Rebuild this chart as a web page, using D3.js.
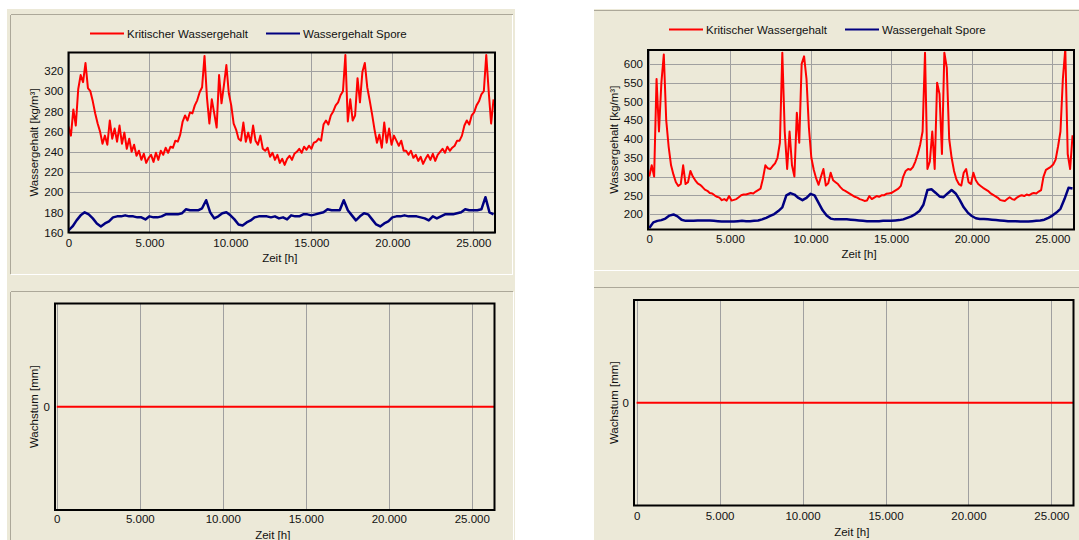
<!DOCTYPE html>
<html>
<head>
<meta charset="utf-8">
<script src="https://cdn.jsdelivr.net/npm/d3@7"></script>
<style>
  body { margin: 0; background: #fff; }
  text { font-family: "Liberation Sans", Arial, sans-serif; fill: #111; }
</style>
</head>
<body>
<div id="chart"></div>
<script>

// ---- data ----
const xTicks = [0, 5000, 10000, 15000, 20000, 25000];
const xTickLabels = ["0", "5.000", "10.000", "15.000", "20.000", "25.000"];

const yTicksLeft = [160, 180, 200, 220, 240, 260, 280, 300, 320];
const yLabelsLeft = ["160", "180", "200", "220", "240", "260", "280", "300", "320"];
const yTicksRight = [200, 250, 300, 350, 400, 450, 500, 550, 600];
const yLabelsRight = ["200", "250", "300", "350", "400", "450", "500", "550", "600"];
const yTicksGrowth = [0];
const yLabelsGrowth = ["0"];

const seriesNames = ["Kritischer Wassergehalt", "Wassergehalt Spore"];

// sampling grid of the read-off values (hours)
const hoursRed = d3.range(0, 26251, 150);
const hoursBlue = d3.range(0, 26251, 250);
const hoursGrowth = [0, 26370];

// left chart: Kritischer Wassergehalt [kg/m³]
const critLeft = [
  265,256,282,266,302,316,309,328,303,300,
  290,278,268,260,248,256,247,271,253,263,
  250,266,248,259,243,253,240,247,236,241,
  232,238,229,234,237,230,239,232,241,237,
  244,239,245,244,251,250,257,270,276,271,
  279,278,286,291,299,304,335,294,268,292,
  278,264,316,288,306,326,298,286,268,262,
  253,251,269,250,259,249,266,251,247,256,
  243,241,244,235,239,232,237,229,233,227,
  233,236,232,238,240,243,239,245,242,246,
  243,249,250,253,251,267,271,267,276,280,
  286,289,296,300,336,270,292,271,276,313,
  289,319,328,304,291,277,262,249,257,244,
  269,249,263,247,256,251,246,251,241,241,
  237,241,234,237,231,235,228,233,237,232,
  238,231,237,240,243,239,245,241,244,246,
  251,251,256,266,271,267,276,279,286,290,
  297,300,336,300,268,292
];

// left chart: Wassergehalt Spore
const sporeLeft = [
  162,166,172,177,180,178,174,169,166,169,
  171,175,176,176,177,176,176,175,175,173,
  176,175,175,176,178,178,178,178,179,183,
  182,182,182,184,192,180,174,176,179,180,
  177,173,168,167,170,172,175,176,176,176,
  175,176,174,175,173,177,176,176,178,178,
  177,178,179,180,183,182,182,182,192,182,
  177,172,176,179,178,173,168,166,169,171,
  175,176,176,177,176,176,176,175,174,172,
  176,174,176,178,178,178,179,180,183,182,
  182,182,183,195,180,178
];

// right chart: Kritischer Wassergehalt
const critRight = [
  300,330,300,560,420,550,625,450,380,330,
  305,285,275,280,330,280,285,315,300,290,
  282,278,272,265,262,256,255,250,246,244,
  237,240,236,248,236,238,240,245,250,252,
  252,254,256,255,260,264,268,295,330,322,
  320,328,335,350,390,630,420,320,420,330,
  300,470,390,600,620,560,430,350,318,295,
  278,300,320,276,282,310,290,285,280,272,
  265,262,258,254,250,246,244,240,238,235,
  236,248,240,244,248,246,250,250,254,255,
  256,260,264,268,275,300,315,320,318,325,
  340,360,385,420,630,320,340,420,320,550,
  520,360,630,590,400,350,315,292,280,276,
  310,320,285,280,310,290,280,275,270,266,
  262,256,252,248,244,238,236,235,240,245,
  240,238,244,248,250,248,252,250,254,256,
  255,260,264,300,318,322,326,332,345,380,
  420,560,640,360,320,410
];

// right chart: Wassergehalt Spore
const sporeRight = [
  163,178,182,184,188,196,199,194,185,182,
  182,182,183,183,183,183,182,181,180,180,
  180,180,181,182,181,181,182,183,186,190,
  195,200,208,218,250,256,252,243,237,243,
  254,250,230,210,196,188,186,186,186,186,
  185,184,183,182,181,181,181,181,182,182,
  182,183,184,186,190,194,200,208,225,264,
  266,257,247,245,255,264,255,238,218,204,
  195,189,187,187,186,185,184,183,182,181,
  181,181,180,180,180,181,182,183,185,190,
  196,204,214,240,270,268
];

// Wachstum [mm]
const growthLeft = [0, 0];
const growthRight = [0, 0];

// ---- drawing ----
const W = 1079, H = 540;
const beige = "#ece9d8", etch = "#aca899";
const red = "#ff0000", navy = "#000080";

let svg = d3.select("#chart").append("svg")
    .attr("width", W).attr("height", H);

// window background for the two columns
svg.append("rect").attr("x", 7).attr("y", 9).attr("width", 508).attr("height", H - 9).attr("fill", beige);
svg.append("rect").attr("x", 594).attr("y", 9).attr("width", W - 594).attr("height", H - 9).attr("fill", beige);

function hline(x1, x2, y, color) {
  svg.append("line").attr("x1", x1).attr("x2", x2).attr("y1", y).attr("y2", y)
     .attr("stroke", color).attr("shape-rendering", "crispEdges");
}
function vline(x, y1, y2, color) {
  svg.append("line").attr("x1", x).attr("x2", x).attr("y1", y1).attr("y2", y2)
     .attr("stroke", color).attr("shape-rendering", "crispEdges");
}

// etched panel edges
hline(10.5, 512.5, 14.5, etch); vline(10.5, 14.5, 274, etch);
hline(10.5, 513, 274.5, "#fff"); vline(512.5, 14.5, 274.5, "#fff");
hline(10.5, 513, 291.5, etch); vline(10.5, 291.5, H, etch); vline(513.5, 291.5, H, "#fff");
hline(594, W, 10.5, etch); hline(594, W, 270.5, "#fff");
hline(594, W, 287.5, etch);

let clipId = 0;

function drawPanel(p) {
  let x = d3.scaleLinear().domain(p.xDomain).range([p.left, p.right]);
  let y = d3.scaleLinear().domain(p.yDomain).range([p.bottom, p.top]);
  let h = p.bottom - p.top, w = p.right - p.left;

  let g = svg.append("g");

  // vertical grid
  g.append("g")
    .attr("transform", "translate(0," + p.bottom + ")")
    .call(d3.axisBottom(x).tickValues(xTicks).tickSize(-h).tickFormat(""))
    .call(a => a.select(".domain").remove())
    .selectAll("line").attr("stroke", "#a0a0a0").attr("shape-rendering", "crispEdges");

  // horizontal grid
  if (p.hGrid) {
    g.append("g")
      .attr("transform", "translate(" + p.left + ",0)")
      .call(d3.axisLeft(y).tickValues(p.yTicks).tickSize(-w).tickFormat(""))
      .call(a => a.select(".domain").remove())
      .selectAll("line").attr("stroke", "#a0a0a0").attr("shape-rendering", "crispEdges");
  }

  // tick labels
  g.append("g")
    .attr("transform", "translate(0," + p.bottom + ")")
    .call(d3.axisBottom(x).tickValues(xTicks).tickSize(0).tickPadding(p.xPad)
            .tickFormat((d, i) => xTickLabels[i]))
    .call(a => a.select(".domain").remove())
    .selectAll("text").style("font-size", "11.5px").attr("fill", "#111");

  g.append("g")
    .attr("transform", "translate(" + p.left + ",0)")
    .call(d3.axisLeft(y).tickValues(p.yTicks).tickSize(0).tickPadding(5)
            .tickFormat((d, i) => p.yLabels[i]))
    .call(a => a.select(".domain").remove())
    .selectAll("text").style("font-size", "11.5px").attr("fill", "#111");

  // clip
  let id = "clip" + (clipId++);
  svg.append("clipPath").attr("id", id)
    .append("rect").attr("x", p.left).attr("y", p.top).attr("width", w).attr("height", h);

  let lines = g.append("g").attr("clip-path", "url(#" + id + ")");
  p.series.forEach(s => {
    lines.append("path")
      .datum(s.values)
      .attr("fill", "none")
      .attr("stroke", s.color)
      .attr("stroke-width", s.width)
      .attr("stroke-linejoin", "round")
      .attr("d", d3.line()
        .x((d, i) => x(s.hours[i]))
        .y(d => y(d)));
  });

  // frame
  g.append("rect")
    .attr("x", p.left).attr("y", p.top).attr("width", w).attr("height", h)
    .attr("fill", "none").attr("stroke", "#000").attr("stroke-width", 2);

  // titles
  g.append("text")
    .attr("x", (p.left + p.right) / 2 - 2).attr("y", p.xTitleY)
    .attr("text-anchor", "middle").style("font-size", "11.5px")
    .text("Zeit [h]");

  g.append("text")
    .attr("transform", "translate(" + p.yTitleX + "," + ((p.top + p.bottom) / 2) + ") rotate(-90)")
    .attr("text-anchor", "middle").style("font-size", "11.5px")
    .text(p.yTitle);

  // legend
  if (p.legend) {
    p.legend.forEach((l, i) => {
      g.append("line")
        .attr("x1", l.x).attr("x2", l.x + 34).attr("y1", p.legendY).attr("y2", p.legendY)
        .attr("stroke", p.series[i].color).attr("stroke-width", 2);
      g.append("text")
        .attr("x", l.x + 37).attr("y", p.legendY + 4)
        .style("font-size", "11.5px")
        .text(seriesNames[i]);
    });
  }
}

drawPanel({
  left: 68.5, right: 495, top: 52.5, bottom: 232.5,
  xDomain: [0, 26340], yDomain: [160, 338.4],
  yTicks: yTicksLeft, yLabels: yLabelsLeft, hGrid: true, xPad: 6,
  xTitleY: 261.5, yTitleX: 38, yTitle: "Wassergehalt [kg/m³]",
  legendY: 33.5, legend: [{x: 90}, {x: 266}],
  series: [
    {hours: hoursRed, values: critLeft, color: red, width: 2},
    {hours: hoursBlue, values: sporeLeft, color: navy, width: 2.5}
  ]
});

drawPanel({
  left: 648, right: 1074, top: 50, bottom: 229.5,
  xDomain: [-80, 26340], yDomain: [159, 637],
  yTicks: yTicksRight, yLabels: yLabelsRight, hGrid: true, xPad: 5.5,
  xTitleY: 258, yTitleX: 618, yTitle: "Wassergehalt [kg/m³]",
  legendY: 29.5, legend: [{x: 669}, {x: 845}],
  series: [
    {hours: hoursRed, values: critRight, color: red, width: 2},
    {hours: hoursBlue, values: sporeRight, color: navy, width: 2.5}
  ]
});

drawPanel({
  left: 55, right: 494.5, top: 303.5, bottom: 510,
  xDomain: [-108, 26370], yDomain: [-1, 1],
  yTicks: yTicksGrowth, yLabels: yLabelsGrowth, hGrid: false, xPad: 5,
  xTitleY: 538.5, yTitleX: 38, yTitle: "Wachstum [mm]",
  series: [
    {hours: hoursGrowth, values: growthLeft, color: red, width: 2}
  ]
});

drawPanel({
  left: 634, right: 1073.5, top: 300, bottom: 505.5,
  xDomain: [-157, 26330], yDomain: [-1, 1],
  yTicks: yTicksGrowth, yLabels: yLabelsGrowth, hGrid: false, xPad: 6,
  xTitleY: 535.5, yTitleX: 618, yTitle: "Wachstum [mm]",
  series: [
    {hours: hoursGrowth, values: growthRight, color: red, width: 2}
  ]
});

</script>
</body>
</html>
